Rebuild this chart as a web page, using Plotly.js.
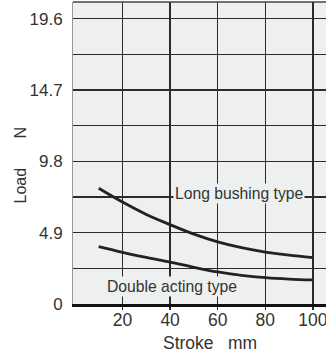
<!DOCTYPE html>
<html>
<head>
<meta charset="utf-8">
<script src="https://cdn.plot.ly/plotly-3.0.1.min.js"></script>
<style>html,body{margin:0;padding:0;background:#fff;}#chart{width:326px;height:356px;}</style>
</head>
<body>
<div id="chart"></div>
<script>
const stroke = [10, 20, 30, 40, 50, 60, 70, 80, 90, 100];
const longBushing = [7.95, 7.0, 6.15, 5.45, 4.8, 4.27, 3.87, 3.57, 3.35, 3.19];
const doubleActing = [3.94, 3.55, 3.2, 2.88, 2.52, 2.2, 1.97, 1.81, 1.71, 1.65];
const xTicks = [20, 40, 60, 80, 100];
const yTickVals = [0, 2.45, 4.9, 7.35, 9.8, 12.25, 14.7, 17.15, 19.6];
const yTickText = ['0', '', '4.9', '', '9.8', '', '14.7', '', '19.6'];

const lineStyle = {color: '#222', width: 2.8, shape: 'spline', smoothing: 1};
const data = [
  {x: stroke, y: longBushing, mode: 'lines', line: lineStyle, hoverinfo: 'skip'},
  {x: stroke, y: doubleActing, mode: 'lines', line: lineStyle, hoverinfo: 'skip'}
];
const font = 'Liberation Sans, Arial, sans-serif';
const layout = {
  width: 326, height: 356,
  margin: {l: 73, r: 0, t: 2, b: 52, pad: 0},
  paper_bgcolor: '#ffffff',
  plot_bgcolor: '#eef0f0',
  showlegend: false,
  font: {family: font, color: '#333', size: 17},
  xaxis: {
    range: [-0.8, 105.5], tickvals: xTicks, ticktext: xTicks.map(String),
    showgrid: true, gridcolor: '#2b2b2b', gridwidth: 1.5,
    ticks: 'outside', ticklen: 3, tickcolor: '#2b2b2b', tickwidth: 1.5,
    showline: true, linecolor: '#111', linewidth: 2.6,
    zeroline: false, fixedrange: true, ticklabeloverflow: 'allow',
    ticklabelstandoff: -5,
    tickfont: {size: 17.5, color: '#333'}
  },
  yaxis: {
    range: [0, 20.74], tickvals: yTickVals, ticktext: yTickText,
    showgrid: true, gridcolor: '#2b2b2b', gridwidth: 1.5,
    ticks: '', showline: true, linecolor: '#999', linewidth: 1,
    zeroline: false, fixedrange: true, ticklabelstandoff: 6,
    tickfont: {size: 17, color: '#333'}
  },
  shapes: [
    {type: 'line', xref: 'paper', yref: 'paper', x0: 0, x1: 1, y0: 1, y1: 1,
     line: {color: '#444', width: 1.5}}
  ],
  annotations: [
    {x: 68.9, y: 7.58, xref: 'x', yref: 'y', text: 'Long bushing type', showarrow: false,
     bgcolor: '#eef0f0', borderpad: 1, font: {size: 15.7, color: '#333'}},
    {x: 40.7, y: 1.2, xref: 'x', yref: 'y', text: 'Double acting type', showarrow: false,
     bgcolor: '#eef0f0', borderpad: 1, font: {size: 15.7, color: '#333'}},
    {x: (188 - 73) / 253, y: -(343 - 304) / 302, xref: 'paper', yref: 'paper', text: 'Stroke',
     showarrow: false, xanchor: 'center', yanchor: 'middle', font: {size: 17.5, color: '#333'}},
    {x: (242 - 73) / 253, y: -(343 - 304) / 302, xref: 'paper', yref: 'paper', text: 'mm',
     showarrow: false, xanchor: 'center', yanchor: 'middle', font: {size: 17.5, color: '#333'}},
    {x: (20 - 73) / 253, y: (304 - 185.5) / 302, xref: 'paper', yref: 'paper', text: 'Load',
     textangle: -90, showarrow: false, xanchor: 'center', yanchor: 'middle', font: {size: 16, color: '#333'}},
    {x: (20 - 73) / 253, y: (304 - 132.5) / 302, xref: 'paper', yref: 'paper', text: 'N',
     textangle: -90, showarrow: false, xanchor: 'center', yanchor: 'middle', font: {size: 16, color: '#333'}}
  ]
};
Plotly.newPlot('chart', data, layout, {staticPlot: true, displayModeBar: false});
</script>
</body>
</html>
